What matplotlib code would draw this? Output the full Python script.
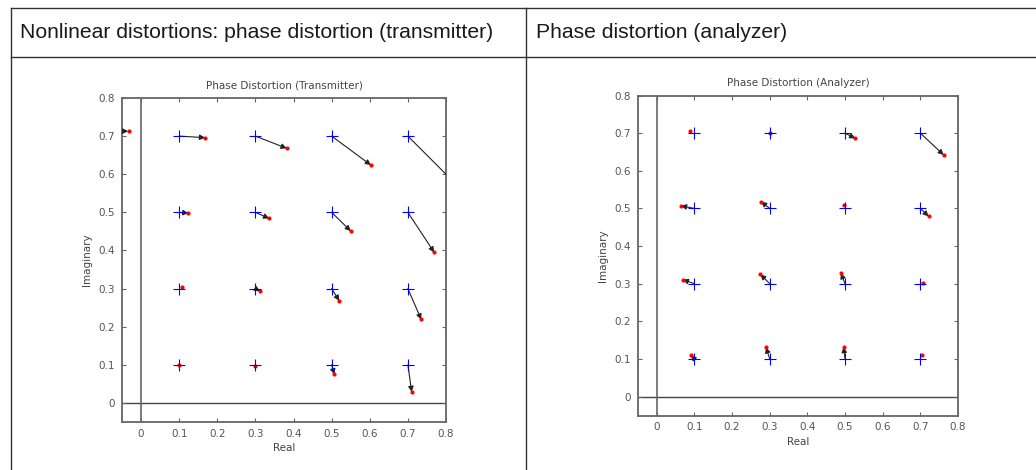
import matplotlib
matplotlib.use("Agg")
import matplotlib.pyplot as plt
from matplotlib.lines import Line2D
from matplotlib.patches import FancyArrowPatch

# ideal constellation points (blue +)
ideal_x = [0.1, 0.3, 0.5, 0.7] * 4
ideal_y = [0.7] * 4 + [0.5] * 4 + [0.3] * 4 + [0.1] * 4

# measured points, transmitter (red)
tx_x = [0.168, 0.382, 0.603, 0.86,
        0.124, 0.336, 0.550, 0.769,
        0.107, 0.312, 0.520, 0.735,
        0.100, 0.300, 0.507, 0.710]
tx_y = [0.696, 0.668, 0.624, 0.54,
        0.498, 0.484, 0.451, 0.395,
        0.303, 0.293, 0.268, 0.219,
        0.100, 0.098, 0.075, 0.029]

# measured points, analyzer (red)
an_x = [0.088, 0.300, 0.527, 0.762,
        0.064, 0.277, 0.496, 0.722,
        0.069, 0.275, 0.489, 0.706,
        0.090, 0.290, 0.496, 0.705]
an_y = [0.705, 0.700, 0.686, 0.642,
        0.507, 0.518, 0.510, 0.479,
        0.311, 0.325, 0.328, 0.303,
        0.110, 0.131, 0.132, 0.112]

ticks = [0, 0.1, 0.2, 0.3, 0.4, 0.5, 0.6, 0.7, 0.8]
tick_labels = ["0", "0.1", "0.2", "0.3", "0.4", "0.5", "0.6", "0.7", "0.8"]

W, H = 1036, 470
fig = plt.figure(figsize=(W / 100, H / 100), dpi=100)
fig.patch.set_facecolor("white")


def px_axes(x0, y0, x1, y1):
    return fig.add_axes([x0 / W, 1 - y1 / H, (x1 - x0) / W, (y1 - y0) / H])


def hline(x0, x1, y):
    fig.add_artist(Line2D([x0 / W, x1 / W], [1 - y / H, 1 - y / H],
                          transform=fig.transFigure, color="#333333", lw=1))


def vline(x, y0, y1):
    fig.add_artist(Line2D([x / W, x / W], [1 - y0 / H, 1 - y1 / H],
                          transform=fig.transFigure, color="#333333", lw=1))


# table frame
hline(11, W + 5, 7.5)
hline(11, W + 5, 56.5)
vline(11, 7.5, H + 5)
vline(525.5, 7.5, H + 5)
fig.text(20.5 / W, 1 - 32 / H, "Nonlinear distortions: phase distortion (transmitter)",
         fontsize=15.2, family="Liberation Sans", color="#1a1a1a", va="center")
fig.text(535.5 / W, 1 - 32 / H, "Phase distortion (analyzer)",
         fontsize=15.2, family="Liberation Sans", color="#1a1a1a", va="center")


def arrow(ax, x0, y0, x1, y1):
    ax.add_patch(FancyArrowPatch((x0, y0), (x1, y1), arrowstyle="-|>",
                                 color="#222222", lw=0.8, mutation_scale=8,
                                 shrinkA=0, shrinkB=0, zorder=3))


def draw_panel(ax, mx, my, title):
    grey = "#555555"
    ax.set_xlim(-0.05, 0.8)
    ax.set_ylim(-0.05, 0.8)
    ax.axhline(0, color="#444444", lw=1, zorder=1)
    ax.axvline(0, color="#666666", lw=1.2, zorder=1)
    for x0, y0, x1, y1 in zip(ideal_x, ideal_y, mx, my):
        if ((x1 - x0) ** 2 + (y1 - y0) ** 2) ** 0.5 > 0.0135:
            arrow(ax, x0, y0, x1, y1)
    ax.plot(mx, my, ".", color="red", ms=4, zorder=4)
    ax.plot(ideal_x, ideal_y, "+", color="blue", ms=8, mew=0.8, zorder=5)
    ax.set_xticks(ticks)
    ax.set_xticklabels(tick_labels)
    ax.set_yticks(ticks)
    ax.set_yticklabels(tick_labels)
    ax.tick_params(direction="in", length=3, width=0.8, colors="#666666",
                   labelcolor=grey, labelsize=7.5, top=True, right=True, pad=5)
    for s in ax.spines.values():
        s.set_color("#666666")
        s.set_linewidth(1.3)
    ax.set_title(title, fontsize=7.5, color="#444444", pad=7)
    ax.set_xlabel("Real", fontsize=7.5, color="#444444", labelpad=3)
    ax.set_ylabel("Imaginary", fontsize=7.5, color="#444444", labelpad=5)


ax1 = px_axes(122, 98, 446, 422)
draw_panel(ax1, tx_x, tx_y, "Phase Distortion (Transmitter)")
# stray marker at the left edge of the transmitter plot
arrow(ax1, -0.08, 0.713, -0.034, 0.713)
ax1.plot([-0.032], [0.713], ".", color="red", ms=4, zorder=4)

ax2 = px_axes(638, 95.5, 958, 415.5)
draw_panel(ax2, an_x, an_y, "Phase Distortion (Analyzer)")

fig.savefig("out.png", dpi=100, facecolor="white")
